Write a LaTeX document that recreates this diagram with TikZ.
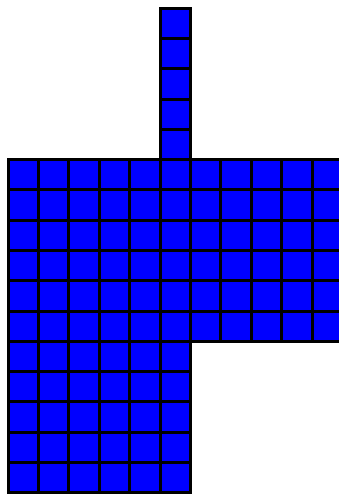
\documentclass[tikz,border=0pt]{standalone}
\begin{document}
\begin{tikzpicture}[x=1pt,y=-1pt,
  cell/.style={fill=blue,draw=black,line width=3pt}]
\useasboundingbox (0,0) rectangle (339,495);
\clip (0,0) rectangle (339,495);
\def\cw{30.4}
\def\ch{30.27}
\def\xo{8}
\def\yo{8.3}
% tower: column 5, rows 0-4
\foreach \r in {0,...,4}
  \draw[cell] ({\xo+5*\cw},{\yo+\r*\ch}) rectangle ++(\cw,\ch);
% main block: columns 0-10, rows 5-10
\foreach \r in {5,...,10}
  \foreach \c in {0,...,10}
    \draw[cell] ({\xo+\c*\cw},{\yo+\r*\ch}) rectangle ++(\cw,\ch);
% lower block: columns 0-5, rows 11-15
\foreach \r in {11,...,15}
  \foreach \c in {0,...,5}
    \draw[cell] ({\xo+\c*\cw},{\yo+\r*\ch}) rectangle ++(\cw,\ch);
\end{tikzpicture}
\end{document}
